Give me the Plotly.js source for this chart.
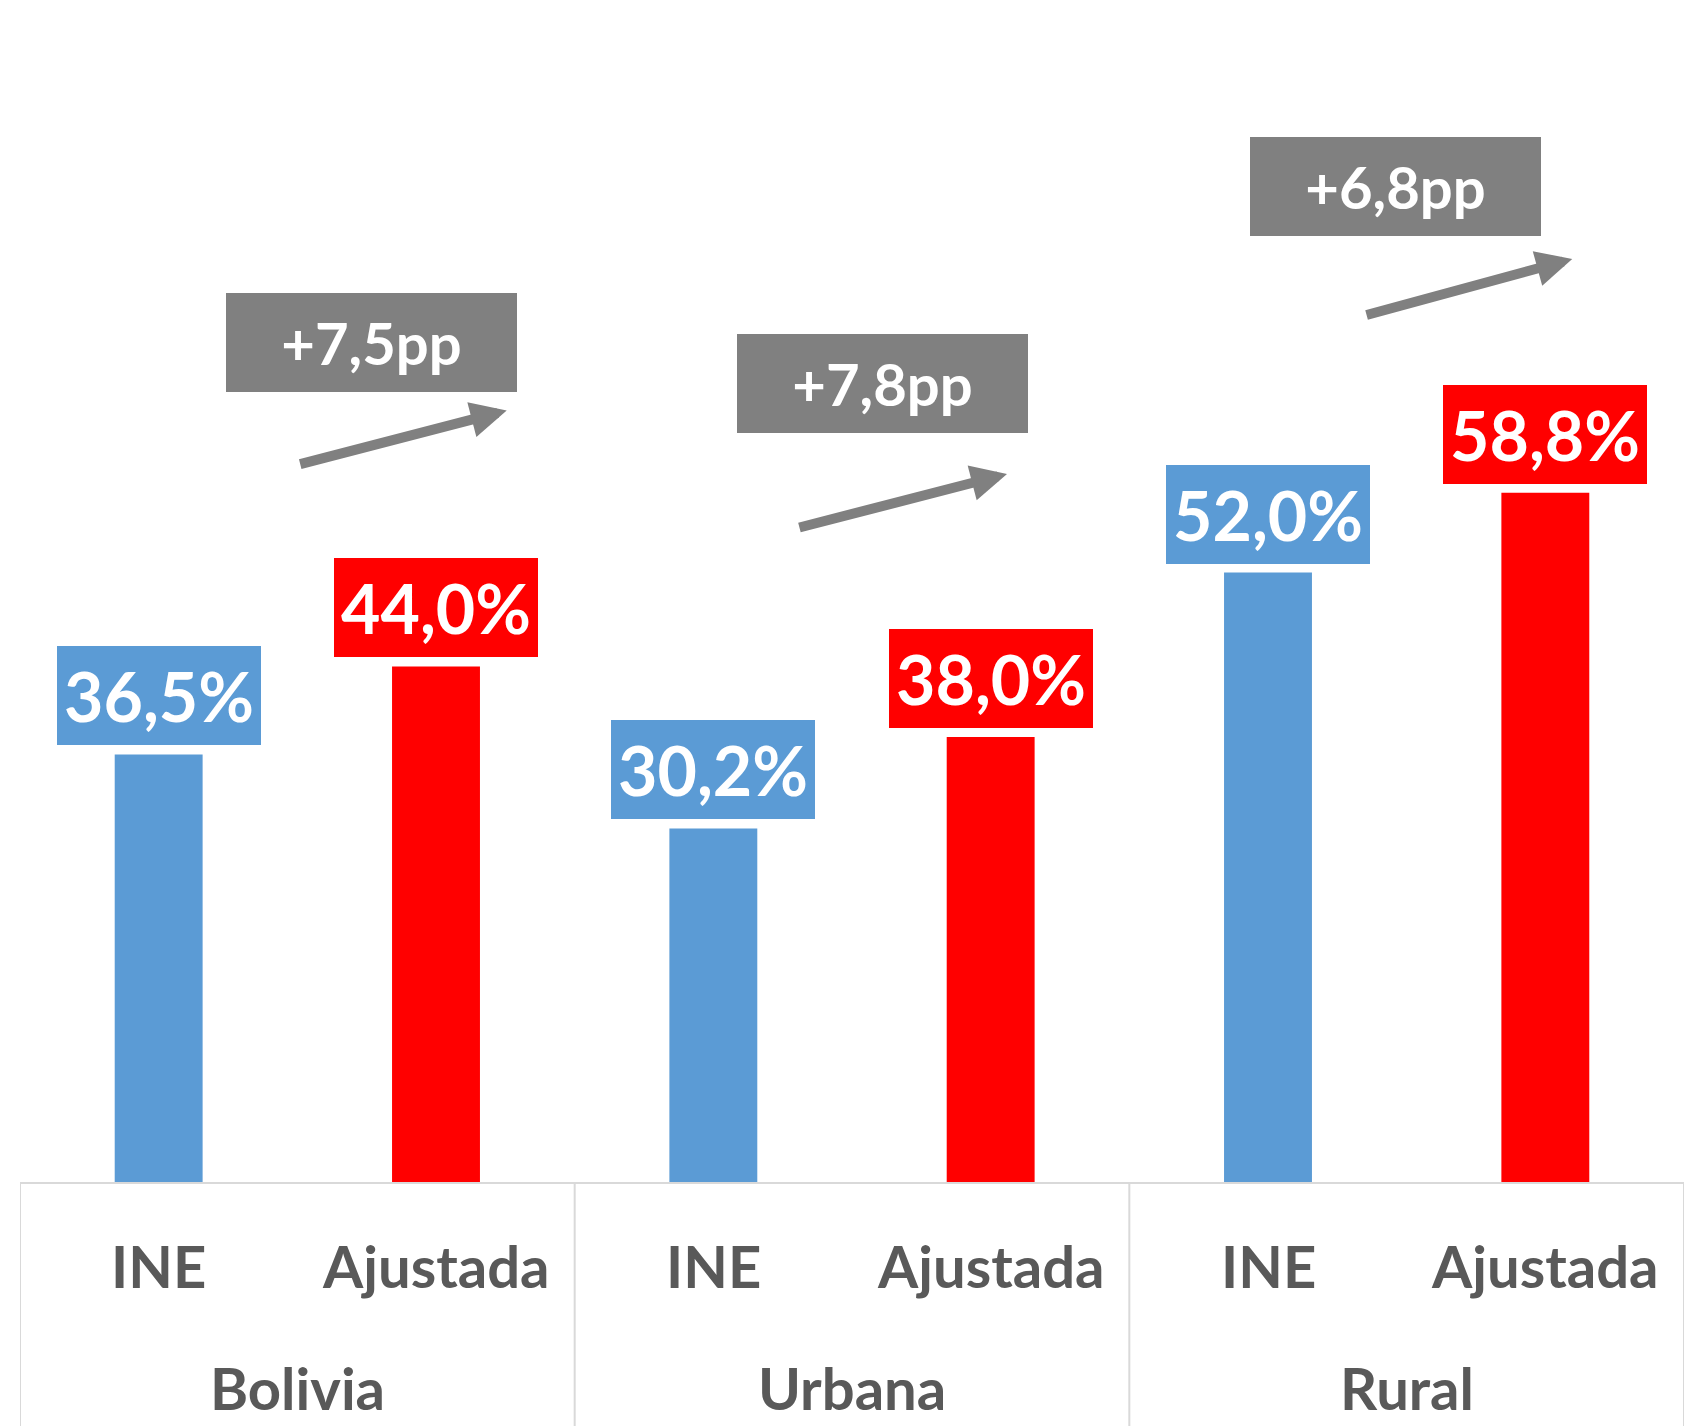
<!DOCTYPE html>
<html>
<head>
<meta charset="utf-8">
<script src="https://cdn.plot.ly/plotly-3.0.1.min.js"></script>
<style>html,body{margin:0;padding:0;background:#fff;}#chart{width:1691px;height:1426px;}</style>
</head>
<body>
<div id="chart"></div>
<script>
// Data
var groups = ["Bolivia", "Urbana", "Rural"];
var subLabels = ["INE", "Ajustada"];
var ineValues = [36.5, 30.2, 52.0];
var ajustadaValues = [44.0, 38.0, 58.8];

// Layout helpers (positions only)
var ppBoxPos = [[0.766, 71.6], [2.611, 68.1], [4.458, 84.9]];
var arrowPos = [
  [0.505, 61.2, 1.255, 65.8],
  [2.305, 55.8, 3.059, 60.4],
  [4.350, 73.9, 5.097, 78.7]
];

var BLUE = "#5B9BD5", RED = "#FF0000", GRAY = "#808080", TXT = "#595959", LINE = "#D9D9D9";
var FONT = "Lato, 'Open Sans', sans-serif";

function fmt(v) { return v.toFixed(1).replace(".", ","); }

var xIne = groups.map(function (g, i) { return 2 * i; });
var xAdj = groups.map(function (g, i) { return 2 * i + 1; });

var traces = [
  { type: "bar", x: xIne, y: ineValues, width: 0.317, marker: { color: BLUE }, hoverinfo: "skip", name: subLabels[0] },
  { type: "bar", x: xAdj, y: ajustadaValues, width: 0.317, marker: { color: RED }, hoverinfo: "skip", name: subLabels[1] }
];

var annotations = [];
var shapes = [];

groups.forEach(function (g, i) {
  // value labels
  [[xIne[i], ineValues[i], BLUE], [xAdj[i], ajustadaValues[i], RED]].forEach(function (d) {
    annotations.push({
      x: d[0], y: d[1], xref: "x", yref: "y", xanchor: "center", yanchor: "bottom", yshift: 9,
      text: "<b>" + fmt(d[1]) + "%</b>", showarrow: false,
      bgcolor: d[2], borderpad: 0, borderwidth: 0, width: 204, height: 99,
      font: { family: FONT, size: 68, color: "#FFFFFF" }
    });
  });
  // difference boxes
  var diff = ajustadaValues[i] - ineValues[i];
  annotations.push({
    x: ppBoxPos[i][0], y: ppBoxPos[i][1], xref: "x", yref: "y", xanchor: "center", yanchor: "middle",
    text: "<b>+" + fmt(diff) + "pp</b>", showarrow: false,
    bgcolor: GRAY, borderpad: 0, borderwidth: 0, width: 291, height: 99,
    font: { family: FONT, size: 58, color: "#FFFFFF" }
  });
  // arrows
  var a = arrowPos[i];
  annotations.push({
    x: a[2], y: a[3], ax: a[0], ay: a[1], xref: "x", yref: "y", axref: "x", ayref: "y",
    text: "", showarrow: true, arrowhead: 2, arrowwidth: 10, arrowsize: 0.72, arrowcolor: GRAY
  });
  // sub labels
  [xIne[i], xAdj[i]].forEach(function (xv, k) {
    annotations.push({
      x: xv, y: -0.07, xref: "x", yref: "paper", xanchor: "center", yanchor: "middle",
      text: "<b>" + subLabels[k] + "</b>", showarrow: false,
      font: { family: FONT, size: 58, color: TXT }
    });
  });
  // group labels
  annotations.push({
    x: 2 * i + 0.5, y: -0.1746, xref: "x", yref: "paper", xanchor: "center", yanchor: "middle",
    text: "<b>" + g + "</b>", showarrow: false,
    font: { family: FONT, size: 58, color: TXT }
  });
});

// axis box lines
var bottomY = -0.21;
shapes.push({ type: "line", xref: "x", yref: "paper", x0: -0.5, x1: 5.5, y0: 0, y1: 0, line: { color: LINE, width: 2 } });
for (var k = 0; k <= groups.length; k++) {
  shapes.push({ type: "line", xref: "x", yref: "paper", x0: 2 * k - 0.5, x1: 2 * k - 0.5, y0: 0, y1: bottomY, line: { color: LINE, width: 2 } });
}

var layout = {
  width: 1691, height: 1426,
  margin: { l: 20, r: 7, t: 9, b: 243, pad: 0 },
  paper_bgcolor: "#FFFFFF", plot_bgcolor: "#FFFFFF",
  showlegend: false, barmode: "overlay",
  xaxis: { range: [-0.5, 5.5], showgrid: false, zeroline: false, showticklabels: false, ticks: "", showline: false, fixedrange: true },
  yaxis: { range: [0, 100], showgrid: false, zeroline: false, showticklabels: false, ticks: "", showline: false, fixedrange: true },
  annotations: annotations,
  shapes: shapes
};

Plotly.newPlot("chart", traces, layout, { staticPlot: true, displayModeBar: false });
</script>
</body>
</html>
